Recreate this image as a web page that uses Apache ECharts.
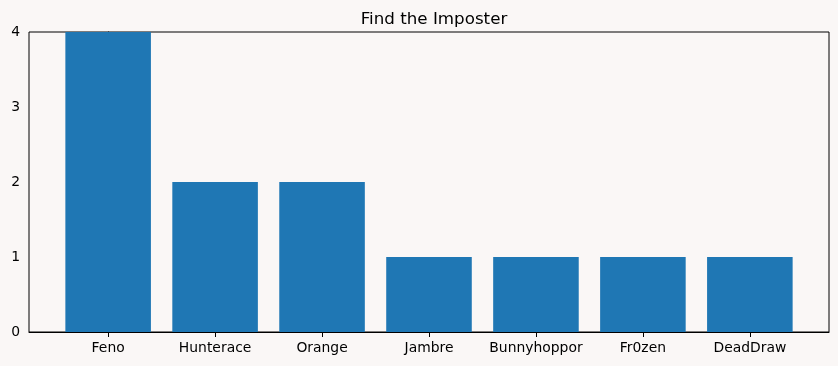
<!DOCTYPE html>
<html><head><meta charset="utf-8">
<script src="https://cdn.jsdelivr.net/npm/echarts@6/dist/echarts.min.js"></script>
<style>html,body{margin:0;padding:0;background:#faf7f6;}#c{width:838px;height:366px;}</style>
</head><body><div id="c"></div>
<script>
var categories = ["Feno","Hunterace","Orange","Jambre","Bunnyhoppor","Fr0zen","DeadDraw"];
var values = [4,2,2,1,1,1,1];
var yTicks = [0,1,2,3,4];

var chart = echarts.init(document.getElementById('c'));
var gridW = 838 - 29 - 9;
var xMin = -0.74, xMax = categories.length - 1 + 0.74;
var barW = gridW / (xMax - xMin) * 0.8;
var idx = categories.map(function(_, i){ return i; });
var font = 'DejaVu Sans';
chart.setOption({
  backgroundColor: '#faf7f6',
  animation: false,
  title: {text: 'Find the Imposter', left: 429, top: 6, textAlign: 'center',
    textStyle: {fontFamily: font, fontSize: 16.7, fontWeight: 'normal', color: '#000'}},
  grid: {left: 29, right: 9, top: 32, bottom: 34, show: true, borderColor: '#000', borderWidth: 1, backgroundColor: 'transparent'},
  xAxis: {type: 'value', min: xMin, max: xMax,
    splitLine: {show: false},
    axisLine: {show: true, lineStyle: {color: '#000'}},
    axisTick: {show: true, customValues: idx, length: 5, lineStyle: {color: '#000'}},
    axisLabel: {customValues: idx, formatter: function(v){ return categories[Math.round(v)]; },
      fontFamily: font, fontSize: 13.9, color: '#000', margin: 9}},
  yAxis: {type: 'value', min: 0, max: 4, interval: 1,
    splitLine: {show: false},
    axisLine: {show: true, lineStyle: {color: '#000'}},
    axisTick: {show: true, length: 5, lineStyle: {color: '#000'}},
    axisLabel: {fontFamily: font, fontSize: 13.9, color: '#000', margin: 9}},
  series: [{type: 'bar', barWidth: barW, itemStyle: {color: '#1f77b4', borderWidth: 0},
    data: values.map(function(v, i){ return [i, v]; })}]
});
</script></body></html>
